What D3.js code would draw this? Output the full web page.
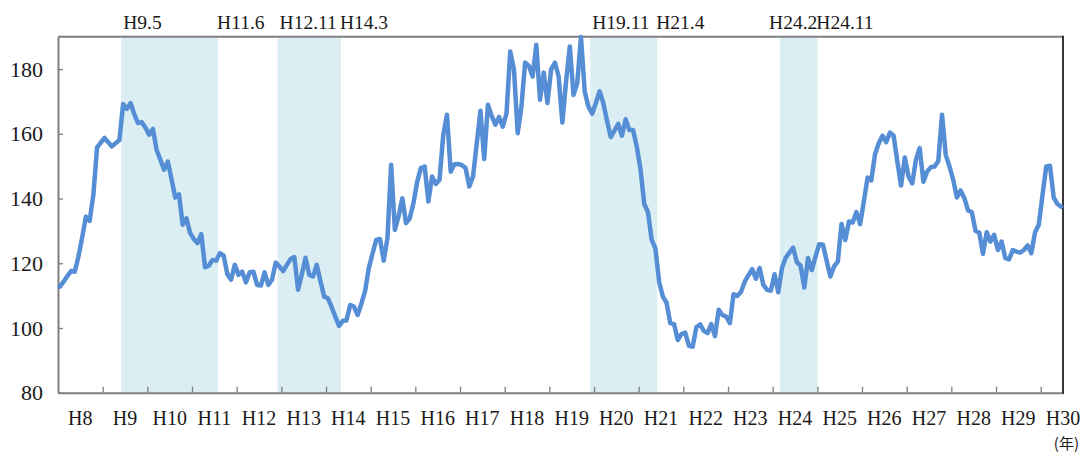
<!DOCTYPE html>
<html>
<head>
<meta charset="utf-8">
<script src="https://cdn.jsdelivr.net/npm/d3@7"></script>
<style>
body { margin: 0; background: #fff; }
text { font-family: "Liberation Serif", serif; fill: #1a1a1a; }
</style>
</head>
<body>
<svg id="chart" width="1087" height="455"></svg>
<script>
// year labels on the x axis (one per 12 months)
var years = ["H8","H9","H10","H11","H12","H13","H14","H15","H16","H17","H18","H19",
             "H20","H21","H22","H23","H24","H25","H26","H27","H28","H29","H30"];

// monthly index, H8.1 .. H30.6
var values = [
  112.8,114.3,116,117.6,117.4,122.1,128,134.4,133.1,141.1,155.8,157.3,
  158.7,157.4,156.1,157.1,158.1,169.2,167.7,169.5,166,163.3,163.6,161.9,
  159.7,161.5,155,152,148.9,151.4,146,140.3,141.3,131.9,133.9,129.3,
  127.5,126.2,129,118.8,119.2,121,120.8,123.1,122.4,116.6,114.9,119.5,
  116.4,117.4,114.1,117.2,117.4,113.3,113.1,117.2,113.3,114.9,120.2,119,
  117.6,119.5,121.3,121.9,111.8,116.5,121.7,116.4,115.9,119.5,114.5,109.7,
  109.2,106.5,103.5,100.6,102.2,102.3,107.1,106.6,104,107.5,111.4,118.5,
  123,127.2,127.5,120.8,127.7,150.4,130.3,134.5,140.1,132.4,133.9,138.6,
  145.2,149.4,149.9,139.1,146.8,144.5,145.8,159.7,165.9,148.3,150.6,150.7,
  150.3,149.4,143.7,146.8,157,167.1,152.2,169,165.5,162.8,165.2,162.2,
  166.4,185.4,179.8,160.2,168.4,182,181,177.7,187.5,170.5,178.9,169.5,
  180,182,177.7,163.5,176.2,187,172,175.7,189.9,173.1,168.4,166.2,
  169.5,173.1,169.5,164,159,161,163.1,159.4,164.5,161.2,161.2,156,
  149,138.3,135.8,127.2,124.6,114.3,109.7,107.8,101.5,101.2,96.3,98.1,
  98.6,94.5,94.2,100.2,101.1,99.1,98.4,101.2,97.5,105.6,104,103.5,
  101.5,110.4,109.9,111.2,114.3,116.3,118.2,115.2,118.5,113.3,111.8,111.5,
  116.6,111,118.5,121.7,123.3,124.8,120.3,119.3,112.5,121.6,117.9,122,
  125.9,125.7,120.8,115.9,119,120.5,132.1,127.2,132.9,132.6,135.8,132.1,
  139.1,146.5,145.6,153.7,157.1,159.4,157.4,160.4,159.4,151.4,144,152.7,
  146.8,144.7,152,155.6,145.2,148.3,149.7,149.9,151.6,165.9,153.5,149.9,
  145.8,140.3,142.5,140.1,136.3,135.8,130,129.5,122.9,129.6,126.7,128.8,
  124.1,126.7,121.6,121.2,124.1,123.6,123.3,124.1,125.5,123.1,129.6,131.9,
  141.1,149.9,150.1,140.3,138.3,137.5
];

var yTicks = [80, 100, 120, 140, 160, 180];

// shaded periods (peak -> trough)
var bandFrom = ["H9.5", "H12.11", "H19.11", "H24.2"];
var bandTo   = ["H11.6", "H14.3", "H21.4", "H24.11"];

var unitLabel = "(年)";

var svg = d3.select("#chart");
var plotL = 58, plotR = 1063, plotT = 36.7, plotB = 392.7;

// month string "H9.5" -> index from H8.1
function monthIndex(s) {
    var p = s.slice(1).split(".");
    return (+p[0] - 8) * 12 + (+p[1] - 1);
}

var x = d3.scaleBand().domain(d3.range(values.length)).range([plotL, plotR]).padding(0);
var bw = x.bandwidth();
var y = d3.scaleLinear().domain([80, 190]).range([plotB, plotT]);

//==================================================
// shaded bands
var bands = bandFrom.map(function(f, i) {
    return { from: f, to: bandTo[i], x0: x(monthIndex(f) + 1), x1: x(monthIndex(bandTo[i]) + 1) + bw };
});

svg.append("g").selectAll("rect").data(bands).enter().append("rect")
    .attr("x", function(d) { return d.x0; })
    .attr("width", function(d) { return d.x1 - d.x0; })
    .attr("y", plotT)
    .attr("height", plotB - plotT)
    .style("fill", "#daeef3");

// labels above the bands
var lab = svg.append("g").style("font-size", "19.5px");
bands.forEach(function(d) {
    var t = lab.append("text").attr("y", 29).text(d.from);
    var w = t.node().getComputedTextLength();
    if (w > d.x1 - d.x0) t.attr("x", d.x1).attr("text-anchor", "end");
    else t.attr("x", d.x0 + 2);
    lab.append("text").attr("x", d.x1 - 1).attr("y", 29).text(d.to);
});

//==================================================
// axes
var yAxis = d3.axisLeft(y).tickValues(yTicks).tickSize(-5).tickSizeOuter(0).tickPadding(15);
var gy = svg.append("g").attr("transform", "translate(" + plotL + ",0)").call(yAxis);
gy.select(".domain").attr("stroke", "#7f7f7f").attr("stroke-width", 2);
gy.selectAll(".tick line").attr("stroke", "#7f7f7f").attr("stroke-width", 1.3);
gy.selectAll("text").style("font-size", "22px").attr("fill", "#1a1a1a")
    .style("font-family", "'Liberation Serif', serif");

var xMonth = d3.scaleLinear().domain([0, values.length]).range([plotL, plotR]);
var xAxis = d3.axisBottom(xMonth).tickValues(d3.range(12, values.length, 12))
    .tickSize(-6).tickSizeOuter(0).tickFormat("");
var gx = svg.append("g").attr("transform", "translate(0," + plotB + ")").call(xAxis);
gx.select(".domain").attr("stroke", "#7f7f7f").attr("stroke-width", 2);
gx.selectAll(".tick line").attr("stroke", "#7f7f7f").attr("stroke-width", 1.3);

svg.append("g").selectAll("text").data(years).enter().append("text")
    .attr("x", function(d, i) { return xMonth(i * 12 + 6); })
    .attr("y", 425)
    .attr("text-anchor", "middle")
    .style("font-size", "20px")
    .text(function(d) { return d; });

svg.append("text").attr("x", 1079).attr("y", 449).attr("text-anchor", "end")
    .style("font-family", "'Noto Sans CJK JP', sans-serif").style("font-size", "15px")
    .text(unitLabel);

// frame: top and right
svg.append("line").attr("x1", plotL).attr("x2", plotR).attr("y1", plotT).attr("y2", plotT)
    .attr("stroke", "#7f7f7f").attr("stroke-width", 2);
svg.append("line").attr("x1", plotR).attr("x2", plotR).attr("y1", plotT - 1).attr("y2", plotB + 1)
    .attr("stroke", "#222").attr("stroke-width", 1.8);

//==================================================
// the line
var line = d3.line()
    .x(function(d, i) { return x(i) + bw / 2; })
    .y(function(d) { return y(d); });

svg.append("path").datum(values)
    .attr("d", line)
    .attr("fill", "none")
    .attr("stroke", "#558ed5")
    .attr("stroke-width", 4.5)
    .attr("stroke-linejoin", "round")
    .attr("stroke-linecap", "round");
</script>
</body>
</html>
